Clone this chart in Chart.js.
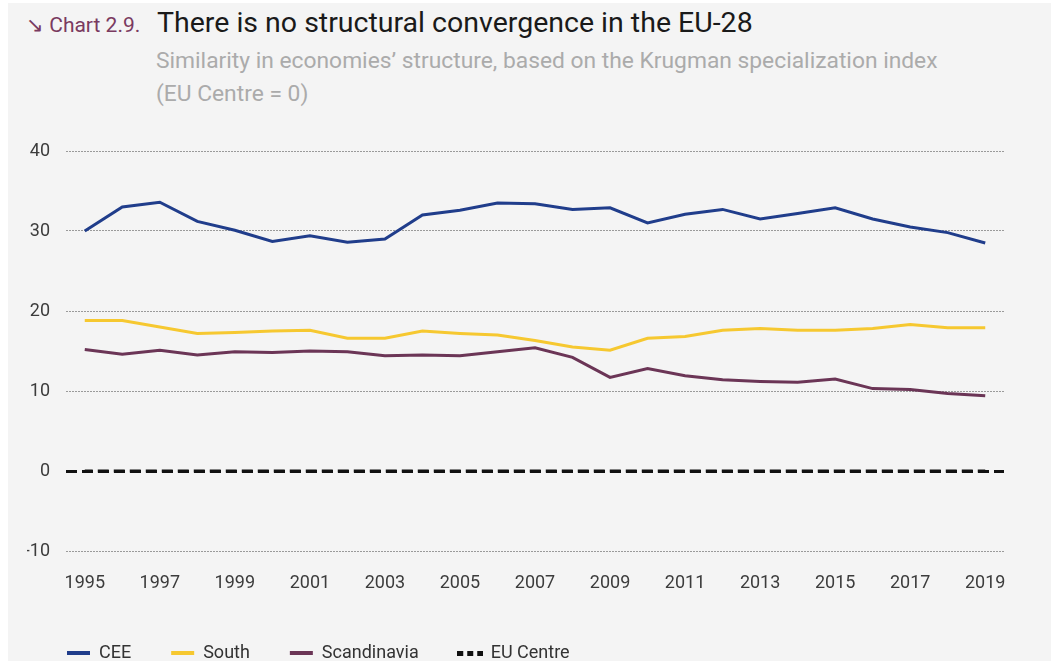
<!DOCTYPE html>
<html>
<head>
<meta charset="utf-8">
<title>Chart 2.9</title>
<script src="https://cdn.jsdelivr.net/npm/chart.js@4/dist/chart.umd.min.js"></script>
<style>
  html, body { margin: 0; padding: 0; background: #fff; overflow: hidden; }
  body { width: 1051px; height: 661px; position: relative; font-family: Roboto, "Noto Sans", sans-serif; }
  #panel { position: absolute; left: 8px; top: 3px; right: 0; bottom: 0; background: #f4f4f4; }
  .hd { position: absolute; white-space: nowrap; }
  #lbl { left: 26px; top: 15px; font-size: 21px; line-height: 21px; color: #7a3a60; }
  #ttl { left: 157px; top: 9px; font-size: 28.5px; line-height: 28.5px; color: #1a1a1a; }
  #sub { left: 156px; top: 44px; font-size: 22.8px; line-height: 33px; color: #ababab; }
  #chart { position: absolute; left: 0; top: 110px; }
</style>
</head>
<body>
<div id="panel"></div>
<div class="hd" id="lbl">&#8600; Chart 2.9.</div>
<div class="hd" id="ttl">There is no structural convergence in the EU-28</div>
<div class="hd" id="sub">Similarity in economies’ structure, based on the Krugman specialization index<br>(EU Centre = 0)</div>
<canvas id="chart" width="1051" height="562"></canvas>
<script>
// values
var years = ['1995','1996','1997','1998','1999','2000','2001','2002','2003','2004','2005','2006',
             '2007','2008','2009','2010','2011','2012','2013','2014','2015','2016','2017','2018','2019'];
var cee = [30.0, 33.0, 33.6, 31.2, 30.1, 28.7, 29.4, 28.6, 29.0, 32.0, 32.6, 33.5,
           33.4, 32.7, 32.9, 31.0, 32.1, 32.7, 31.5, 32.2, 32.9, 31.5, 30.5, 29.8, 28.5];
var south = [18.8, 18.8, 18.0, 17.2, 17.3, 17.5, 17.6, 16.6, 16.6, 17.5, 17.2, 17.0,
             16.3, 15.5, 15.1, 16.6, 16.8, 17.6, 17.8, 17.6, 17.6, 17.8, 18.3, 17.9, 17.9];
var scandinavia = [15.2, 14.6, 15.1, 14.5, 14.9, 14.8, 15.0, 14.9, 14.4, 14.5, 14.4, 14.9,
                   15.4, 14.2, 11.7, 12.8, 11.9, 11.4, 11.2, 11.1, 11.5, 10.3, 10.2, 9.7, 9.4];
var euCentre = [0, 0, 0, 0, 0, 0, 0, 0, 0, 0, 0, 0, 0, 0, 0, 0, 0, 0, 0, 0, 0, 0, 0, 0, 0];
var yTicks = [-10, 0, 10, 20, 30, 40];

var zeroDash = [11, 5];

// little dashed marker for the EU Centre legend entry
var dashIcon = document.createElement('canvas');
dashIcon.width = 26;
dashIcon.height = 5;
var dc = dashIcon.getContext('2d');
dc.fillStyle = '#111';
for (var k = 0; k < 3; k++) dc.fillRect(k * 10, 0, 6, 5);

var ctx = document.getElementById('chart').getContext('2d');
var myChart = new Chart(ctx, {
  type: 'line',
  data: {
    labels: years,
    datasets: [
      { label: 'CEE', data: cee, borderColor: '#203d8b', backgroundColor: '#203d8b', borderWidth: 3 },
      { label: 'South', data: south, borderColor: '#f6c830', backgroundColor: '#f6c830', borderWidth: 3 },
      { label: 'Scandinavia', data: scandinavia, borderColor: '#6b3556', backgroundColor: '#6b3556', borderWidth: 3 },
      { label: 'EU Centre', data: euCentre, borderColor: '#111', backgroundColor: '#111', borderWidth: 3,
        borderDash: zeroDash, borderDashOffset: 3 }
    ]
  },
  options: {
    responsive: false,
    animation: false,
    layout: { padding: { left: 27, right: 47, top: 41, bottom: 0 } },
    elements: {
      line: { tension: 0, borderCapStyle: 'butt' },
      point: { radius: 0, hoverRadius: 0 }
    },
    scales: {
      x: {
        offset: true,
        grid: { display: false },
        border: { display: false },
        ticks: {
          autoSkip: false,
          maxRotation: 0,
          padding: 14,
          color: '#3c3c3c',
          font: { family: 'Roboto', size: 18 },
          callback: function(v, i) { return i % 2 === 0 ? this.getLabelForValue(v) : ''; }
        },
        afterFit: function(s) { s.height = 53; }
      },
      y: {
        min: -10,
        max: 40,
        afterBuildTicks: function(s) { s.ticks = yTicks.map(function(v) { return { value: v }; }); },
        grid: {
          drawTicks: false,
          color: function(c) { return c.tick && c.tick.value === 0 ? '#111' : '#9a9a9a'; },
          lineWidth: function(c) { return c.tick && c.tick.value === 0 ? 3 : 1; }
        },
        border: {
          display: false,
          dash: function(c) { return c.tick && c.tick.value === 0 ? zeroDash : [2, 1]; }
        },
        ticks: {
          padding: 16,
          color: '#3c3c3c',
          font: { family: 'Roboto', size: 18 }
        },
        afterFit: function(s) { s.width = 39; }
      }
    },
    plugins: {
      legend: {
        position: 'bottom',
        align: 'start',
        labels: {
          usePointStyle: true,
          pointStyle: 'line',
          pointStyleWidth: 23,
          padding: 40,
          color: '#333',
          font: { family: 'Roboto', size: 18 },
          generateLabels: function(chart) {
            var items = Chart.defaults.plugins.legend.labels.generateLabels(chart);
            items.forEach(function(it) {
              it.lineWidth = 4;
              if (it.text === 'EU Centre') { it.pointStyle = dashIcon; }
            });
            return items;
          }
        }
      },
      tooltip: { enabled: false }
    }
  }
});
</script>
</body>
</html>
